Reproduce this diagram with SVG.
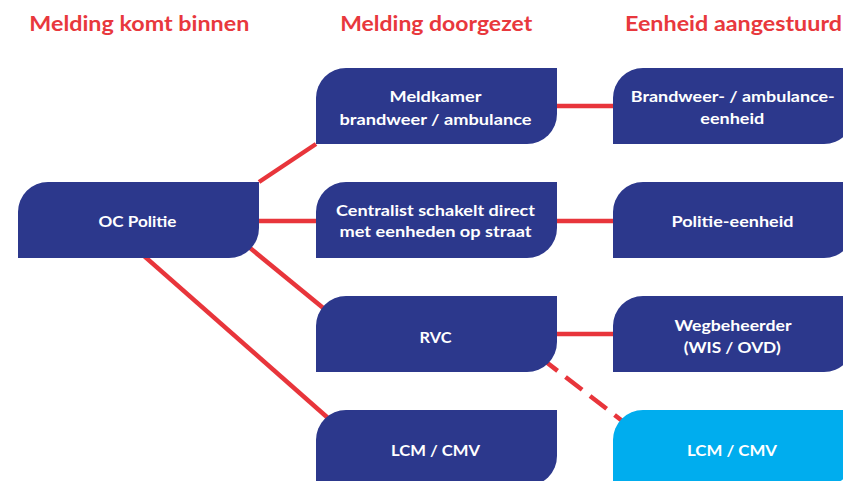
<svg xmlns="http://www.w3.org/2000/svg" width="843" height="481" viewBox="0 0 843 481">
<style>
.title{font-family:Lato,"Open Sans","Liberation Sans",sans-serif;font-weight:bold;font-size:21.5px;fill:#e8383d;text-anchor:middle}
.lbl{font-family:Lato,"Open Sans","Liberation Sans",sans-serif;font-weight:bold;font-size:15.5px;fill:#ffffff;text-anchor:middle}
.box{fill:#2c388c}
.box2{fill:#00adee}
.con{stroke:#e8353b;stroke-width:4.5;fill:none}
.dash{stroke-dasharray:21 10}
</style>
<rect width="843" height="481" fill="#ffffff"/>
<g id="titles">
<text class="title" x="139.3" y="31" textLength="220" lengthAdjust="spacingAndGlyphs">Melding komt binnen</text>
<text class="title" x="436.2" y="31" textLength="192" lengthAdjust="spacingAndGlyphs">Melding doorgezet</text>
<text class="title" x="733.5" y="31" textLength="217" lengthAdjust="spacingAndGlyphs">Eenheid aangestuurd</text>
</g>
<g id="connectors">
<line class="con" x1="259" y1="182" x2="316" y2="144"/>
<line class="con" x1="250" y1="221" x2="330" y2="221"/>
<line class="con" x1="230" y1="231.6" x2="340" y2="321.7"/>
<line class="con" x1="135" y1="248" x2="345" y2="433"/>
<line class="con" x1="550" y1="106" x2="620" y2="106"/>
<line class="con" x1="550" y1="221" x2="620" y2="221"/>
<line class="con" x1="550" y1="334" x2="620" y2="334"/>
<line class="con dash" x1="541" y1="358" x2="640" y2="434.6"/>
</g>
<g id="oc-politie">
<path class="box" d="M18,258 V212 A30,30 0 0 1 48,182 H259 V228 A30,30 0 0 1 229,258 Z"/>
<text class="lbl" x="137.5" y="227" textLength="78" lengthAdjust="spacingAndGlyphs">OC Politie</text>
</g>
<g id="meldkamer">
<path class="box" d="M316,144 V98 A30,30 0 0 1 346,68 H557 V114 A30,30 0 0 1 527,144 Z"/>
<text class="lbl" x="435.5" y="101.7" textLength="92" lengthAdjust="spacingAndGlyphs">Meldkamer</text>
<text class="lbl" x="435.5" y="125" textLength="192" lengthAdjust="spacingAndGlyphs">brandweer / ambulance</text>
</g>
<g id="centralist">
<path class="box" d="M316,258 V212 A30,30 0 0 1 346,182 H557 V228 A30,30 0 0 1 527,258 Z"/>
<text class="lbl" x="435.5" y="216.3" textLength="199" lengthAdjust="spacingAndGlyphs">Centralist schakelt direct</text>
<text class="lbl" x="435.5" y="237" textLength="192" lengthAdjust="spacingAndGlyphs">met eenheden op straat</text>
</g>
<g id="rvc">
<path class="box" d="M316,372 V326 A30,30 0 0 1 346,296 H557 V342 A30,30 0 0 1 527,372 Z"/>
<text class="lbl" x="435.5" y="343" textLength="32" lengthAdjust="spacingAndGlyphs">RVC</text>
</g>
<g id="lcm-cmv-1">
<path class="box" d="M316,486 V440 A30,30 0 0 1 346,410 H557 V456 A30,30 0 0 1 527,486 Z"/>
<text class="lbl" x="435.5" y="456" textLength="89" lengthAdjust="spacingAndGlyphs">LCM / CMV</text>
</g>
<g id="brandweer-eenheid">
<path class="box" d="M613,144 V98 A30,30 0 0 1 643,68 H854 V114 A30,30 0 0 1 824,144 Z"/>
<text class="lbl" x="732.8" y="101.7" textLength="204" lengthAdjust="spacingAndGlyphs">Brandweer- / ambulance-</text>
<text class="lbl" x="732.3" y="124.3" textLength="64" lengthAdjust="spacingAndGlyphs">eenheid</text>
</g>
<g id="politie-eenheid">
<path class="box" d="M613,258 V212 A30,30 0 0 1 643,182 H854 V228 A30,30 0 0 1 824,258 Z"/>
<text class="lbl" x="732.5" y="226.7" textLength="122" lengthAdjust="spacingAndGlyphs">Politie-eenheid</text>
</g>
<g id="wegbeheerder">
<path class="box" d="M613,372 V326 A30,30 0 0 1 643,296 H854 V342 A30,30 0 0 1 824,372 Z"/>
<text class="lbl" x="733" y="330.5" textLength="117" lengthAdjust="spacingAndGlyphs">Wegbeheerder</text>
<text class="lbl" x="732.2" y="353" textLength="97" lengthAdjust="spacingAndGlyphs">(WIS / OVD)</text>
</g>
<g id="lcm-cmv-2">
<path class="box2" d="M613,486 V440 A30,30 0 0 1 643,410 H854 V456 A30,30 0 0 1 824,486 Z"/>
<text class="lbl" x="732" y="456" textLength="90" lengthAdjust="spacingAndGlyphs">LCM / CMV</text>
</g>
</svg>
